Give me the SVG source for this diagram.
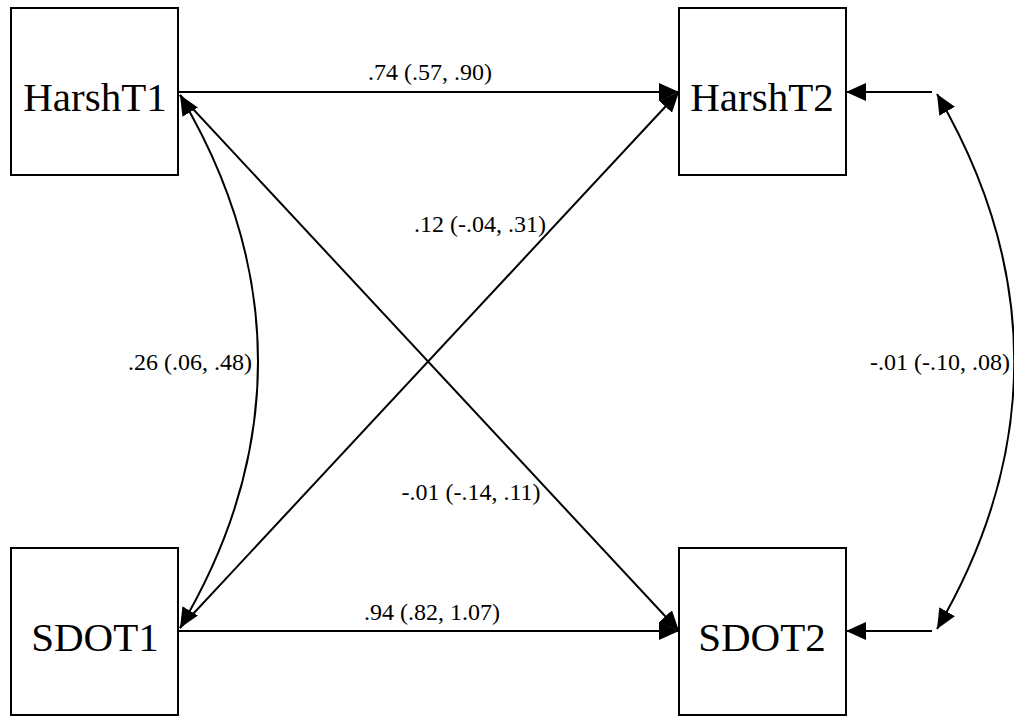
<svg xmlns="http://www.w3.org/2000/svg" width="1014" height="716" viewBox="0 0 1014 716">
<style>
.box{fill:#fff;stroke:#000;stroke-width:2}
.nl{font-family:"Liberation Serif",serif;font-size:41px;fill:#000;text-anchor:middle}
.el{font-family:"Liberation Serif",serif;font-size:24px;fill:#000;text-anchor:middle}
.c{fill:none;stroke:#000;stroke-width:2}
</style>
<defs>
<marker id="ah" markerUnits="userSpaceOnUse" markerWidth="22" markerHeight="20" refX="20" refY="9" orient="auto-start-reverse" viewBox="0 0 22 20">
<polygon points="0,0 20,9 0,18" fill="#000"/>
</marker>
</defs>
<rect width="1014" height="716" fill="#fff"/>
<g id="connectors">
<path class="c" d="M178,92 L679,92" marker-end="url(#ah)"/>
<path class="c" d="M178,631 L679,631" marker-end="url(#ah)"/>
<path class="c" d="M180,95 L679,631" marker-end="url(#ah)"/>
<path class="c" d="M180,628 L679,92" marker-end="url(#ah)"/>
<path class="c" d="M180,95 C284,270 284,453 180,628" marker-start="url(#ah)" marker-end="url(#ah)"/>
<path class="c" d="M932,92 L846,92" marker-end="url(#ah)"/>
<path class="c" d="M932,631 L846,631" marker-end="url(#ah)"/>
<path class="c" d="M937,94 C1040,270 1040,453 937,629" marker-start="url(#ah)" marker-end="url(#ah)"/>
<text class="el" x="430" y="80">.74 (.57, .90)</text>
<text class="el" x="432" y="620">.94 (.82, 1.07)</text>
<text class="el" x="480" y="232">.12 (-.04, .31)</text>
<text class="el" x="471" y="500">-.01 (-.14, .11)</text>
<text class="el" x="190" y="370">.26 (.06, .48)</text>
<text class="el" x="940" y="370">-.01 (-.10, .08)</text>
</g>
<g id="HarshT1"><rect class="box" x="11" y="8" width="167" height="167"/><text class="nl" x="95" y="111">HarshT1</text></g>
<g id="HarshT2"><rect class="box" x="679" y="8" width="167" height="167"/><text class="nl" x="762" y="111">HarshT2</text></g>
<g id="SDOT1"><rect class="box" x="11" y="548" width="167" height="167"/><text class="nl" x="95" y="651">SDOT1</text></g>
<g id="SDOT2"><rect class="box" x="679" y="548" width="167" height="167"/><text class="nl" x="762" y="651">SDOT2</text></g>
</svg>
